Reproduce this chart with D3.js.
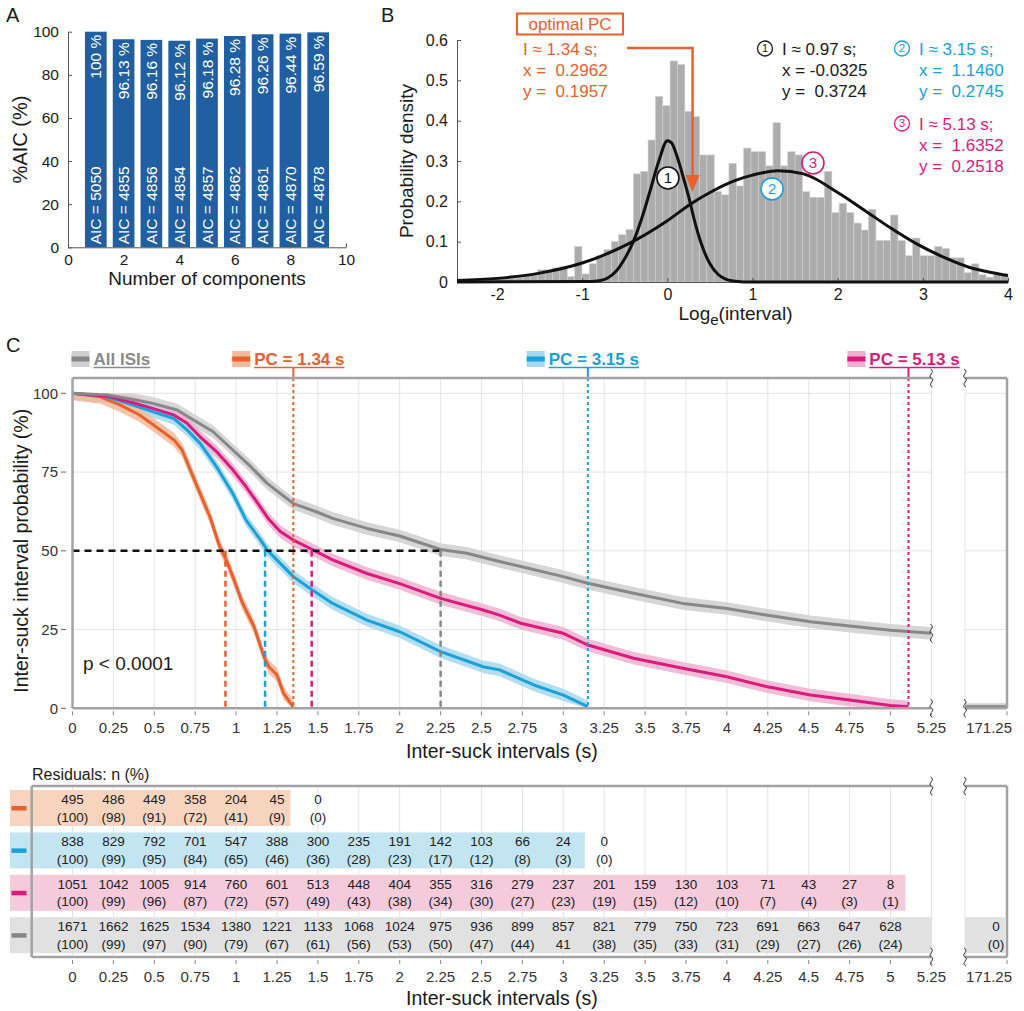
<!DOCTYPE html>
<html>
<head>
<meta charset="utf-8">
<script src="https://d3js.org/d3.v7.min.js"></script>
<style>
  body { margin: 0; background: #fff; }
  svg { font-family: "Liberation Sans", Arial, Helvetica, sans-serif; }
</style>
</head>
<body>
<svg id="fig" width="1024" height="1011"></svg>
<script>
// ---------- panel A: AIC per number of components
const aicComponents = [1, 2, 3, 4, 5, 6, 7, 8, 9];
const aicBarHeights = [100, 96.5, 96.2, 95.8, 96.8, 98.0, 98.8, 99.1, 99.7];
const aicPctLabels = ['100 %', '96.13 %', '96.16 %', '96.12 %', '96.18 %', '96.28 %', '96.26 %', '96.44 %', '96.59 %'];
const aicValues = [5050, 4855, 4856, 4854, 4857, 4862, 4861, 4870, 4878];
const aicXTicks = [0, 2, 4, 6, 8, 10];
const aicYTicks = [0, 20, 40, 60, 80, 100];

// ---------- panel B: histogram of log intervals + fitted components
const histStart = -2.47;
const histBinWidth = 0.0863;
const histDensity = [
  0.003, 0.003, 0.004, 0.005, 0.006, 0.008, 0.010, 0.010, 0.012,
  0.017, 0.017, 0.030, 0.030, 0.035, 0.038, 0.013, 0.088, 0.020, 0.045,
  0.065, 0.080, 0.100, 0.117, 0.130, 0.268, 0.274, 0.352, 0.460, 0.437,
  0.548, 0.539, 0.423, 0.410, 0.315, 0.315, 0.224, 0.216, 0.294, 0.238,
  0.332, 0.323, 0.323, 0.288, 0.395, 0.288, 0.323, 0.315, 0.224, 0.210,
  0.210, 0.274, 0.172, 0.195, 0.172, 0.146, 0.129, 0.180, 0.103, 0.103,
  0.166, 0.103, 0.065, 0.109, 0.065, 0.065, 0.088, 0.083, 0.060, 0.060,
  0.023, 0.045, 0.018, 0.012, 0.018, 0.015
];
const fitShortPoints = [
  [-2.47, 0], [-0.9, 0.001], [-0.8, 0.003], [-0.7, 0.01], [-0.6, 0.027], [-0.5, 0.058],
  [-0.4, 0.1], [-0.3, 0.158], [-0.2, 0.228], [-0.1, 0.3], [0, 0.35], [0.05, 0.345],
  [0.1, 0.32], [0.2, 0.25], [0.27, 0.195], [0.3, 0.168], [0.4, 0.094], [0.5, 0.045],
  [0.6, 0.018], [0.7, 0.006], [0.8, 0.002], [0.9, 0], [4.0, 0]
];
const fitLongPoints = [
  [-2.47, 0.004], [-2.0, 0.009], [-1.5, 0.022], [-1.0, 0.047], [-0.5, 0.09], [0, 0.152],
  [0.27, 0.193], [0.5, 0.222], [0.8, 0.252], [1.0, 0.265], [1.3, 0.276], [1.6, 0.268],
  [2.0, 0.222], [2.3, 0.18], [2.6, 0.137], [2.95, 0.092], [3.27, 0.059], [3.55, 0.036],
  [3.82, 0.023], [4.0, 0.016]
];
const optimalPC = { x: 0.2962, y: 0.1957 };
const histXTicks = [-2, -1, 0, 1, 2, 3, 4];
const histYTicks = [0, 0.1, 0.2, 0.3, 0.4, 0.5, 0.6];

// ---------- panel C: survival curves (inter-suck interval probability, %)
const survAll = [[0,100],[0.21,99.5],[0.37,98],[0.49,96.8],[0.64,94.7],[0.74,91.5],[0.86,87.8],[0.98,82],[1.08,77.2],[1.19,71.4],[1.27,68.2],[1.35,65],[1.49,62.4],[1.59,60.3],[1.8,57.1],[2.0,54.7],[2.25,50.4],[2.41,49.2],[2.61,46.6],[2.74,45],[3.0,41.8],[3.15,39.7],[3.43,36.5],[3.73,33.3],[4.0,31.7],[4.24,29.6],[4.51,27.5],[4.75,26.1],[5.0,24.8],[5.25,23.8]];
const survPC513 = [[0,100],[0.21,99.1],[0.37,97],[0.49,95.2],[0.62,93.1],[0.7,90.5],[0.78,86.2],[0.88,81.5],[0.98,75.7],[1.06,70.4],[1.12,66],[1.2,60],[1.27,56.1],[1.35,53.4],[1.45,50.8],[1.59,47.1],[1.8,42.8],[2.0,39.6],[2.25,34.9],[2.51,31.2],[2.61,29.6],[2.74,27],[3.0,23.8],[3.15,20.1],[3.43,15.9],[3.73,12.7],[4.0,10.0],[4.24,6.9],[4.51,4.2],[4.75,2.6],[5.0,0.9],[5.11,0.5]];
const survPC315 = [[0,100],[0.21,98.9],[0.37,96.3],[0.49,94.2],[0.62,92],[0.7,88.4],[0.78,84.1],[0.88,76.7],[0.98,68.2],[1.06,59.8],[1.15,53.4],[1.19,50.2],[1.27,46],[1.35,41.8],[1.45,38.1],[1.59,33.3],[1.8,28],[2.0,24.3],[2.25,18],[2.51,13.2],[2.61,12.2],[2.82,7.4],[3.0,4.2],[3.15,0.5]];
const survPC134 = [[0,100],[0.17,98.9],[0.29,96.3],[0.41,93.1],[0.51,89.4],[0.62,85.2],[0.67,82],[0.72,75.7],[0.78,68.2],[0.84,60.8],[0.9,51.3],[0.94,47.1],[0.98,41.8],[1.04,33.3],[1.11,25.9],[1.17,16.4],[1.2,13.2],[1.25,10.6],[1.29,4.8],[1.35,0.3]];
const survAllTail = [[171.0, 0.4], [171.25, 0.4]];
const ribbonHalfWidth = [2.2, 2.0, 2.0, 2.0];   // orange, blue, magenta, gray (% units)
const pcCutoffs = [1.35, 3.15, 5.11];
const medianTimes = [0.935, 1.177, 1.462, 2.25];
const intervalTicks = [0, 0.25, 0.5, 0.75, 1, 1.25, 1.5, 1.75, 2, 2.25, 2.5, 2.75, 3, 3.25, 3.5, 3.75, 4, 4.25, 4.5, 4.75, 5, 5.25];
const probTicks = [0, 25, 50, 75, 100];

// ---------- residuals table
const residTimes = [0, 0.25, 0.5, 0.75, 1, 1.25, 1.5, 1.75, 2, 2.25, 2.5, 2.75, 3, 3.25, 3.5, 3.75, 4, 4.25, 4.5, 4.75, 5];
const residOrangeN = [495, 486, 449, 358, 204, 45, 0];
const residOrangePct = [100, 98, 91, 72, 41, 9, 0];
const residBlueN = [838, 829, 792, 701, 547, 388, 300, 235, 191, 142, 103, 66, 24, 0];
const residBluePct = [100, 99, 95, 84, 65, 46, 36, 28, 23, 17, 12, 8, 3, 0];
const residMagentaN = [1051, 1042, 1005, 914, 760, 601, 513, 448, 404, 355, 316, 279, 237, 201, 159, 130, 103, 71, 43, 27, 8];
const residMagentaPct = [100, 99, 96, 87, 72, 57, 49, 43, 38, 34, 30, 27, 23, 19, 15, 12, 10, 7, 4, 3, 1];
const residAllN = [1671, 1662, 1625, 1534, 1380, 1221, 1133, 1068, 1024, 975, 936, 899, 857, 821, 779, 750, 723, 691, 663, 647, 628];
const residAllPct = [100, 99, 97, 90, 79, 67, 61, 56, 53, 50, 47, 44, '41', 38, 35, 33, 31, 29, 27, 26, 24];
const residAllTail = { t: 171.25, n: 0, pct: 0 };

// ---------- colours
const ink = '#1a1a1a';
const orange = '#e8602c', blue = '#1aa0db', magenta = '#dc1a7e', grayLine = '#878787';
const aicBlue = '#1f5fa2';

const svg = d3.select('#fig');
svg.append('rect').attr('width', 1024).attr('height', 1011).attr('fill', '#fff');

function styleAxis(g, size) {
  g.attr('font-family', null).attr('font-size', null);
  g.selectAll('.domain').attr('stroke', '#555');
  g.selectAll('.tick line').attr('stroke', '#555');
  g.selectAll('.tick text').attr('font-size', size).attr('fill', ink);
}

// panel letters
svg.selectAll('text.letter')
  .data([['A', 6, 22], ['B', 381, 22], ['C', 6, 352]])
  .join('text')
  .attr('class', 'letter')
  .attr('x', d => d[1]).attr('y', d => d[2])
  .attr('font-size', 20).attr('fill', ink)
  .text(d => d[0]);

// =============== PANEL A ===============
const xA = d3.scaleLinear().domain([0, 10]).range([68, 346]);
const yA = d3.scaleLinear().domain([0, 100]).range([247.3, 31.7]);
const gA = svg.append('g');

gA.selectAll('rect.bar')
  .data(aicComponents)
  .join('rect')
  .attr('class', 'bar')
  .attr('x', d => xA(d - 0.39))
  .attr('width', xA(0.78) - xA(0))
  .attr('y', (d, i) => yA(aicBarHeights[i]))
  .attr('height', (d, i) => yA(0) - yA(aicBarHeights[i]))
  .attr('fill', aicBlue);

gA.selectAll('text.pct')
  .data(aicComponents)
  .join('text')
  .attr('class', 'pct')
  .attr('transform', (d, i) => `translate(${xA(d)},${yA(aicBarHeights[i]) + 3}) rotate(-90)`)
  .attr('text-anchor', 'end').attr('dy', '0.36em')
  .attr('font-size', 15.5).attr('fill', '#fff')
  .text((d, i) => aicPctLabels[i]);

gA.selectAll('text.aic')
  .data(aicComponents)
  .join('text')
  .attr('class', 'aic')
  .attr('transform', d => `translate(${xA(d)},${yA(0) - 3}) rotate(-90)`)
  .attr('text-anchor', 'start').attr('dy', '0.36em')
  .attr('font-size', 15.5).attr('fill', '#fff')
  .text((d, i) => `AIC = ${aicValues[i]}`);

gA.append('g').attr('transform', `translate(0,${yA(0)})`)
  .call(d3.axisBottom(xA).tickValues(aicXTicks).tickSizeInner(-4).tickSizeOuter(0).tickPadding(7))
  .call(g => styleAxis(g, 15.5));
gA.append('g').attr('transform', `translate(${xA(0)},0)`)
  .call(d3.axisLeft(yA).tickValues(aicYTicks).tickSizeInner(-4).tickSizeOuter(0).tickPadding(9))
  .call(g => styleAxis(g, 15.5));

gA.append('text').attr('x', (xA(0) + xA(10)) / 2).attr('y', 285)
  .attr('text-anchor', 'middle').attr('font-size', 19).attr('fill', ink)
  .text('Number of components');
gA.append('text').attr('transform', `translate(27,${(yA(0) + yA(100)) / 2}) rotate(-90)`)
  .attr('text-anchor', 'middle').attr('font-size', 20).attr('fill', ink)
  .text('%AIC (%)');

// =============== PANEL B ===============
const xB = d3.scaleLinear().domain([-2.47, 4.0]).range([457, 1008]);
const yB = d3.scaleLinear().domain([0, 0.6]).range([282, 40]);
const gB = svg.append('g');

const bins = histDensity.map((d, i) => ({ x0: histStart + i * histBinWidth, x1: histStart + (i + 1) * histBinWidth, y: d }));
gB.selectAll('rect.bin')
  .data(bins)
  .join('rect')
  .attr('class', 'bin')
  .attr('x', d => xB(d.x0))
  .attr('width', d => xB(d.x1) - xB(d.x0))
  .attr('y', d => yB(d.y))
  .attr('height', d => yB(0) - yB(d.y))
  .attr('fill', '#acacac')
  .attr('stroke', '#cfcfcf').attr('stroke-width', 0.6);

gB.append('g').attr('transform', `translate(0,${yB(0)})`)
  .call(d3.axisBottom(xB).tickValues(histXTicks).tickFormat(d => String(d)).tickSizeInner(-4).tickSizeOuter(0).tickPadding(7))
  .call(g => styleAxis(g, 16));
gB.append('g').attr('transform', `translate(${xB(-2.47)},0)`)
  .call(d3.axisLeft(yB).tickValues(histYTicks).tickFormat(d => d === 0 ? '0' : d3.format('.1f')(d)).tickSizeInner(-4).tickSizeOuter(0).tickPadding(9))
  .call(g => styleAxis(g, 16));

const fitLine = d3.line().x(d => xB(d[0])).y(d => yB(d[1])).curve(d3.curveMonotoneX);
[fitShortPoints, fitLongPoints].forEach(pts => {
  gB.append('path').attr('d', fitLine(pts))
    .attr('fill', 'none').attr('stroke', '#111').attr('stroke-width', 3).attr('stroke-linejoin', 'round');
});

// circled component labels on the plot
const plotMarks = [
  { n: '1', x: 0.007, y: 0.258, color: '#111' },
  { n: '2', x: 1.23, y: 0.231, color: blue },
  { n: '3', x: 1.71, y: 0.295, color: magenta }
];
const pm = gB.selectAll('g.pm').data(plotMarks).join('g').attr('class', 'pm')
  .attr('transform', d => `translate(${xB(d.x)},${yB(d.y)})`);
pm.append('circle').attr('r', 11).attr('fill', '#fff').attr('stroke', d => d.color).attr('stroke-width', 1.6);
pm.append('text').attr('text-anchor', 'middle').attr('dy', '0.36em').attr('font-size', 15)
  .attr('fill', d => d.color).text(d => d.n);

// optimal PC box + arrow
const optX = xB(optimalPC.x), optY = yB(optimalPC.y);
gB.append('rect').attr('x', 517).attr('y', 13.5).attr('width', 106).attr('height', 21)
  .attr('fill', '#fff').attr('stroke', orange).attr('stroke-width', 2);
gB.append('text').attr('x', 570).attr('y', 30).attr('text-anchor', 'middle')
  .attr('font-size', 17).attr('fill', orange).text('optimal PC');
gB.append('path').attr('d', `M627,48H${optX}V${optY - 26}`)
  .attr('fill', 'none').attr('stroke', orange).attr('stroke-width', 2.5);
gB.append('path').attr('d', `M${optX - 7},${optY - 28}L${optX + 7},${optY - 28}L${optX},${optY - 11}Z`)
  .attr('fill', orange);

const annoBlocks = [
  { mark: null, color: orange, x: 523, y: 55, lines: ['I ≈ 1.34 s;', 'x =  0.2962', 'y =  0.1957'] },
  { mark: '1', color: '#1a1a1a', x: 782, y: 55, lines: ['I ≈ 0.97 s;', 'x = -0.0325', 'y =  0.3724'] },
  { mark: '2', color: blue, x: 919, y: 55, lines: ['I ≈ 3.15 s;', 'x =  1.1460', 'y =  0.2745'] },
  { mark: '3', color: magenta, x: 919, y: 130, lines: ['I ≈ 5.13 s;', 'x =  1.6352', 'y =  0.2518'] }
];
annoBlocks.forEach(b => {
  b.lines.forEach((l, i) => {
    gB.append('text').attr('x', b.x).attr('y', b.y + i * 20.8)
      .attr('font-size', 17).attr('fill', b.color).style('white-space', 'pre').text(l);
  });
  if (b.mark) {
    gB.append('circle').attr('cx', b.x - 17).attr('cy', b.y - 6.5).attr('r', 7.5)
      .attr('fill', '#fff').attr('stroke', b.color).attr('stroke-width', 1.3);
    gB.append('text').attr('x', b.x - 17).attr('y', b.y - 6.5).attr('dy', '0.36em')
      .attr('text-anchor', 'middle').attr('font-size', 11).attr('fill', b.color).text(b.mark);
  }
});

const xlabB = gB.append('text').attr('x', (xB(-2.47) + xB(4)) / 2 + 3).attr('y', 320)
  .attr('text-anchor', 'middle').attr('font-size', 19).attr('fill', ink);
xlabB.append('tspan').text('Log');
xlabB.append('tspan').attr('dy', 5).attr('font-size', 15).text('e');
xlabB.append('tspan').attr('dy', -5).text('(interval)');
gB.append('text').attr('transform', `translate(413,${(yB(0) + yB(0.6)) / 2}) rotate(-90)`)
  .attr('text-anchor', 'middle').attr('font-size', 19).attr('fill', ink)
  .text('Probability density');

// =============== PANEL C ===============
const xC = d3.scaleLinear().domain([0, 5.25]).range([72.5, 931.4]);
const yC = d3.scaleLinear().domain([0, 100]).range([708.3, 393.3]);
const xMini = d3.scaleLinear().domain([171.0, 171.25]).range([965, 1007]);
const plotTop = 378;
const gC = svg.append('g');
const gridColor = '#e4e4e4', boxColor = '#a3a3a3';

gC.selectAll('line.vgrid').data(intervalTicks).join('line').attr('class', 'vgrid')
  .attr('x1', d => xC(d)).attr('x2', d => xC(d)).attr('y1', plotTop).attr('y2', yC(0))
  .attr('stroke', gridColor).attr('stroke-width', 1);
gC.selectAll('line.hgrid').data(probTicks).join('line').attr('class', 'hgrid')
  .attr('x1', xC(0)).attr('x2', xC(5.25)).attr('y1', d => yC(d)).attr('y2', d => yC(d))
  .attr('stroke', gridColor).attr('stroke-width', 1);
gC.selectAll('line.hgridm').data(probTicks).join('line').attr('class', 'hgridm')
  .attr('x1', xMini(171.0)).attr('x2', xMini(171.25)).attr('y1', d => yC(d)).attr('y2', d => yC(d))
  .attr('stroke', gridColor).attr('stroke-width', 1);
gC.append('line').attr('x1', xMini(171.0)).attr('x2', xMini(171.0)).attr('y1', plotTop).attr('y2', yC(0))
  .attr('stroke', gridColor);

const series = [
  { name: 'PC = 1.34 s', data: survPC134, color: orange, ribbon: '#f4b999', pc: pcCutoffs[0], half: ribbonHalfWidth[0] },
  { name: 'PC = 3.15 s', data: survPC315, color: blue, ribbon: '#a6d8ef', pc: pcCutoffs[1], half: ribbonHalfWidth[1] },
  { name: 'PC = 5.13 s', data: survPC513, color: magenta, ribbon: '#efb0cf', pc: pcCutoffs[2], half: ribbonHalfWidth[2] },
  { name: 'All ISIs', data: survAll, color: grayLine, ribbon: '#cfcfcf', pc: null, half: ribbonHalfWidth[3] }
];

const ribbonArea = half => d3.area()
  .x(d => xC(d[0]))
  .y0(d => yC(Math.max(0, d[1] - half)))
  .y1(d => yC(Math.min(100, d[1] + half)));
const survLine = d3.line().x(d => xC(d[0])).y(d => yC(d[1]));

series.slice().reverse().forEach(s => {
  gC.append('path').attr('d', ribbonArea(s.half)(s.data)).attr('fill', s.ribbon).attr('fill-opacity', 0.85);
});
series.forEach(s => {
  gC.append('path').attr('d', survLine(s.data)).attr('fill', 'none')
    .attr('stroke', s.color).attr('stroke-width', 3).attr('stroke-linejoin', 'round');
});
// tail of all ISIs in the broken-axis part
gC.append('path').attr('d', d3.area().x(d => xMini(d[0])).y0(d => yC(0)).y1(d => yC(d[1] + 1.2))(survAllTail))
  .attr('fill', '#cfcfcf');
gC.append('path').attr('d', d3.line().x(d => xMini(d[0])).y(d => yC(d[1]))(survAllTail))
  .attr('stroke', grayLine).attr('stroke-width', 3.5).attr('fill', 'none');

// 50% line and medians
gC.append('line').attr('x1', xC(0)).attr('x2', xC(medianTimes[3])).attr('y1', yC(50)).attr('y2', yC(50))
  .attr('stroke', '#111').attr('stroke-width', 2.5).attr('stroke-dasharray', '7,5');
const medColors = [orange, blue, magenta, grayLine];
gC.selectAll('line.med').data(medianTimes).join('line').attr('class', 'med')
  .attr('x1', d => xC(d)).attr('x2', d => xC(d)).attr('y1', yC(50)).attr('y2', yC(0))
  .attr('stroke', (d, i) => medColors[i]).attr('stroke-width', 2.5).attr('stroke-dasharray', '6,4');

// PC dotted lines
series.filter(s => s.pc !== null).forEach(s => {
  gC.append('line').attr('x1', xC(s.pc)).attr('x2', xC(s.pc)).attr('y1', 367).attr('y2', plotTop)
    .attr('stroke', s.color).attr('stroke-width', 2);
  gC.append('line').attr('x1', xC(s.pc)).attr('x2', xC(s.pc)).attr('y1', plotTop).attr('y2', yC(0))
    .attr('stroke', s.color).attr('stroke-width', 2).attr('stroke-dasharray', '3,3');
});

// box
const box = [
  [xC(0), plotTop, xC(5.25), plotTop], [xC(0), yC(0), xC(5.25), yC(0)], [xC(0), plotTop, xC(0), yC(0)],
  [xMini(171.0), plotTop, xMini(171.25), plotTop], [xMini(171.0), yC(0), xMini(171.25), yC(0)],
  [xMini(171.25), plotTop, xMini(171.25), yC(0)]
];
gC.selectAll('line.box').data(box).join('line').attr('class', 'box')
  .attr('x1', d => d[0]).attr('y1', d => d[1]).attr('x2', d => d[2]).attr('y2', d => d[3])
  .attr('stroke', boxColor).attr('stroke-width', 2.5);

function squiggle(g, x, y) {
  g.append('path')
    .attr('d', `M${x - 1},${y - 9} C${x + 5},${y - 6} ${x - 5},${y - 2} ${x},${y} C${x + 5},${y + 2} ${x - 5},${y + 6} ${x + 1},${y + 9}`)
    .attr('fill', 'none').attr('stroke', '#333').attr('stroke-width', 1);
}
squiggle(gC, xC(5.25), plotTop);
squiggle(gC, xC(5.25), yC(0));
squiggle(gC, xC(5.25), yC(survAll[survAll.length - 1][1]));
squiggle(gC, xMini(171.0), plotTop);
squiggle(gC, xMini(171.0), yC(0));

// y ticks
gC.selectAll('text.yt').data(probTicks).join('text').attr('class', 'yt')
  .attr('x', 58).attr('y', d => yC(d)).attr('dy', '0.36em').attr('text-anchor', 'end')
  .attr('font-size', 15).attr('fill', '#333').text(d => d);
gC.selectAll('line.yt').data(probTicks).join('line').attr('class', 'yt')
  .attr('x1', 61).attr('x2', 66).attr('y1', d => yC(d)).attr('y2', d => yC(d))
  .attr('stroke', '#666').attr('stroke-width', 1);

function xTicksAt(g, yAxis) {
  g.selectAll(null).data(intervalTicks).join('line')
    .attr('x1', d => xC(d)).attr('x2', d => xC(d)).attr('y1', yAxis + 3).attr('y2', yAxis + 7)
    .attr('stroke', '#888');
  g.selectAll(null).data(intervalTicks).join('text')
    .attr('x', d => xC(d)).attr('y', yAxis + 25).attr('text-anchor', 'middle')
    .attr('font-size', 15).attr('fill', '#333').text(d => String(d));
  g.append('line').attr('x1', xMini(171.25)).attr('x2', xMini(171.25)).attr('y1', yAxis + 3).attr('y2', yAxis + 7)
    .attr('stroke', '#888');
  g.append('text').attr('x', xMini(171.25) + 5).attr('y', yAxis + 25).attr('text-anchor', 'end')
    .attr('font-size', 15).attr('fill', '#333').text('171.25');
}
xTicksAt(gC, yC(0));
gC.append('text').attr('x', (xC(0) + xC(5.25)) / 2).attr('y', 758).attr('text-anchor', 'middle')
  .attr('font-size', 19.5).attr('fill', ink).text('Inter-suck intervals (s)');
gC.append('text').attr('transform', `translate(28,${(yC(0) + yC(100)) / 2}) rotate(-90)`)
  .attr('text-anchor', 'middle').attr('font-size', 19.5).attr('fill', ink)
  .text('Inter-suck interval probability (%)');
gC.append('text').attr('x', 83).attr('y', 670).attr('font-size', 19).attr('fill', ink)
  .style('white-space', 'pre').text('p < 0.0001');

// legend
series.forEach(s => {
  const isAll = s.pc === null;
  const t = gC.append('text').attr('y', 365).attr('font-size', 17).attr('font-weight', 'bold')
    .attr('fill', isAll ? '#8a8a8a' : s.color).text(s.name);
  const w = t.node().getComputedTextLength();
  const x0 = isAll ? xC(0) + 21 : xC(s.pc) + 6 - w / 2;
  t.attr('x', x0);
  gC.append('line').attr('x1', x0).attr('x2', x0 + w).attr('y1', 367.5).attr('y2', 367.5)
    .attr('stroke', isAll ? '#8a8a8a' : s.color).attr('stroke-width', 1.6);
  gC.append('rect').attr('x', x0 - 22).attr('y', 351).attr('width', 18).attr('height', 16).attr('fill', s.ribbon);
  gC.append('rect').attr('x', x0 - 22).attr('y', 356.5).attr('width', 18).attr('height', 5).attr('fill', s.color);
});

// =============== RESIDUALS TABLE ===============
const gT = svg.append('g');
const tblTop = 786, tblBottom = 957;
gT.append('text').attr('x', 32).attr('y', 780).attr('font-size', 16).attr('fill', ink).text('Residuals: n (%)');

gT.selectAll('line.vgrid').data(intervalTicks).join('line').attr('class', 'vgrid')
  .attr('x1', d => xC(d)).attr('x2', d => xC(d)).attr('y1', tblTop).attr('y2', tblBottom)
  .attr('stroke', gridColor);
gT.append('line').attr('x1', xMini(171.0)).attr('x2', xMini(171.0)).attr('y1', tblTop).attr('y2', tblBottom)
  .attr('stroke', gridColor);

const rows = [
  { n: residOrangeN, pct: residOrangePct, color: orange, band: '#f8d4be', end: xC(pcCutoffs[0]) - 3 },
  { n: residBlueN, pct: residBluePct, color: blue, band: '#c3e4f1', end: xC(pcCutoffs[1]) - 3 },
  { n: residMagentaN, pct: residMagentaPct, color: magenta, band: '#f5cadb', end: xC(pcCutoffs[2]) - 3 },
  { n: residAllN, pct: residAllPct, color: grayLine, band: '#e1e1e1', end: xC(5.25) }
];
const fmtPct = v => typeof v === 'number' ? `(${v})` : v;
rows.forEach((r, i) => {
  const top = 790 + i * 42.4;
  gT.append('rect').attr('x', 10).attr('y', top).attr('width', r.end - 10).attr('height', 36).attr('fill', r.band);
  gT.append('rect').attr('x', 11.5).attr('y', top + 16).attr('width', 15).attr('height', 4.5).attr('fill', r.color);
  const cells = r.n.map((n, j) => ({ t: residTimes[j], n: n, p: r.pct[j] }));
  gT.selectAll(null).data(cells).join('text')
    .attr('x', d => xC(d.t)).attr('y', top + 14).attr('text-anchor', 'middle')
    .attr('font-size', 13.5).attr('fill', '#222').text(d => d.n);
  gT.selectAll(null).data(cells).join('text')
    .attr('x', d => xC(d.t)).attr('y', top + 31.5).attr('text-anchor', 'middle')
    .attr('font-size', 13.5).attr('fill', '#222').text(d => fmtPct(d.p));
  if (i === 3) {
    gT.append('rect').attr('x', xMini(171.0)).attr('y', top).attr('width', xMini(171.25) - xMini(171.0) - 2)
      .attr('height', 36).attr('fill', r.band);
    gT.append('text').attr('x', xMini(residAllTail.t) - 11).attr('y', top + 14).attr('text-anchor', 'middle')
      .attr('font-size', 13.5).attr('fill', '#222').text(residAllTail.n);
    gT.append('text').attr('x', xMini(residAllTail.t) - 11).attr('y', top + 31.5).attr('text-anchor', 'middle')
      .attr('font-size', 13.5).attr('fill', '#222').text(fmtPct(residAllTail.pct));
  }
});

const tbox = [
  [31.7, tblTop, xC(5.25), tblTop], [31.7, tblBottom, xC(5.25), tblBottom], [31.7, tblTop, 31.7, tblBottom],
  [xMini(171.0), tblTop, xMini(171.25), tblTop], [xMini(171.0), tblBottom, xMini(171.25), tblBottom],
  [xMini(171.25), tblTop, xMini(171.25), tblBottom]
];
gT.selectAll('line.box').data(tbox).join('line').attr('class', 'box')
  .attr('x1', d => d[0]).attr('y1', d => d[1]).attr('x2', d => d[2]).attr('y2', d => d[3])
  .attr('stroke', boxColor).attr('stroke-width', 2.5);
squiggle(gT, xC(5.25), tblTop);
squiggle(gT, xC(5.25), tblBottom);
squiggle(gT, xMini(171.0), tblTop);
squiggle(gT, xMini(171.0), tblBottom);

xTicksAt(gT, tblBottom);
gT.append('text').attr('x', (xC(0) + xC(5.25)) / 2).attr('y', 1005).attr('text-anchor', 'middle')
  .attr('font-size', 19.5).attr('fill', ink).text('Inter-suck intervals (s)');
</script>
</body>
</html>
